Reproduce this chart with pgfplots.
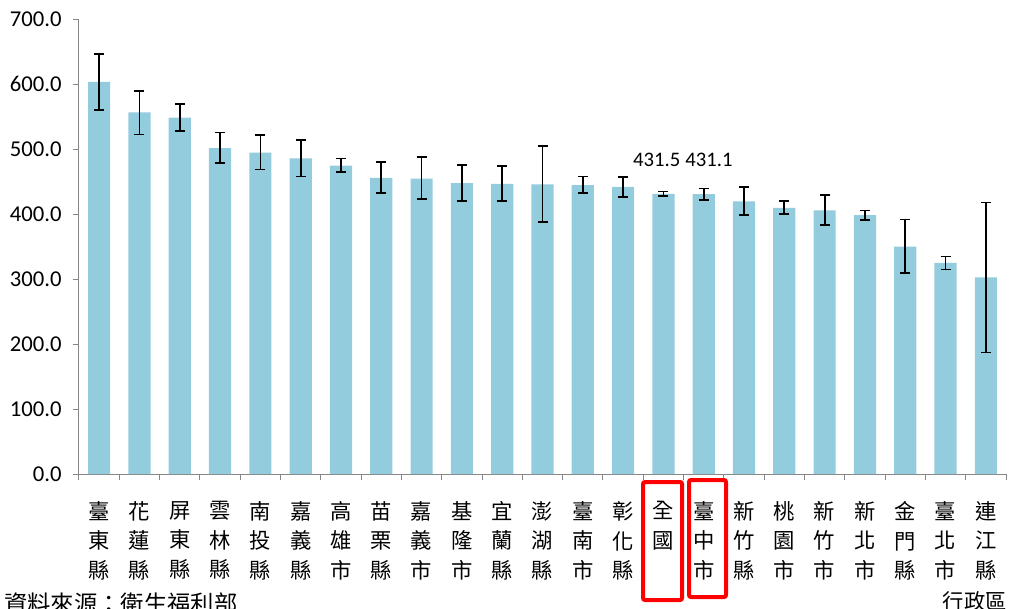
\documentclass[border=0pt]{standalone}
\usepackage{pgfplots}
\pgfplotsset{compat=1.18}
\usepackage{pgfplotstable}
\usepackage{fontspec}
\setmainfont{Carlito}
\newfontfamily\cjk{Noto Sans CJK TC}
\definecolor{barblue}{HTML}{93CDDD}
\definecolor{axgray}{HTML}{868686}

% x: category index, y: value, ep/em: error bar up/down
\pgfplotstableread{
x y ep em
0 604 43 43
1 557 33 34
2 549 21 21
3 502 24 23
4 495 27 26
5 486 28 28
6 475 11 10
7 456 24 23
8 455 33 32
9 448 28 28
10 447 27 26
11 446 59 58
12 445 13 12
13 442 15 15
14 431.5 3.5 3.5
15 431.1 8.4 9.6
16 420 22 21.5
17 410 10.5 10
18 406 24 23
19 398.5 7.5 7.5
20 350 42 40
21 325 10 10
22 303 115 116
}\datatable

\begin{document}
\begin{tikzpicture}
\begin{axis}[
  name=ax, at={(0,0)}, anchor=south west,
  scale only axis, width=695.25pt, height=340.9pt,
  xmin=-0.5, xmax=22.5, ymin=0, ymax=700,
  axis lines*=left,
  axis line style={axgray, line width=0.75pt},
  tick style={axgray, line width=0.75pt},
  tick align=outside,
  major tick length=4.5pt,
  ytick={0,100,...,700},
  yticklabel={\pgfmathprintnumber[fixed,fixed zerofill,precision=1]{\tick}},
  /pgf/number format/assume math mode=true,
  yticklabel style={font=\fontsize{17}{20}\selectfont, xshift=-5pt},
  xtick={-0.5,0.5,...,22.5},
  xticklabels={},
  extra x ticks={0,...,22},
  extra x tick labels={{臺\\東\\縣},{花\\蓮\\縣},{屏\\東\\縣},{雲\\林\\縣},{南\\投\\縣},{嘉\\義\\縣},{高\\雄\\市},{苗\\栗\\縣},{嘉\\義\\市},{基\\隆\\市},{宜\\蘭\\縣},{澎\\湖\\縣},{臺\\南\\市},{彰\\化\\縣},{全\\國},{臺\\中\\市},{新\\竹\\縣},{桃\\園\\市},{新\\竹\\市},{新\\北\\市},{金\\門\\縣},{臺\\北\\市},{連\\江\\縣}},
  extra x tick style={major tick length=0pt,
    tick label style={font=\cjk\fontsize{16}{22}\selectfont, align=center, inner sep=0pt, yshift=-20.5pt}},
]
\addplot[ybar, bar width=0.55, fill=barblue, draw=none,
  error bars/.cd, y dir=both, y explicit,
  error bar style={black, line width=1.3pt},
  error mark options={black, line width=1.3pt, mark size=3.75pt, rotate=90}]
  table[x=x, y=y, y error plus=ep, y error minus=em]{\datatable};
\node[font=\fontsize{15.5}{18}\selectfont, xshift=-5pt] at (axis cs:14,483) {431.5};
\node[font=\fontsize{15.5}{18}\selectfont, xshift=4pt] at (axis cs:15,483) {431.1};
\end{axis}
\draw[red, line width=3pt, rounded corners=1.5pt] (423pt,-6pt) rectangle (452.25pt,-94.5pt);
\draw[red, line width=3pt, rounded corners=1.5pt] (457.5pt,-4.5pt) rectangle (485.25pt,-92.25pt);
\node[anchor=base west, inner sep=0pt, font=\cjk\fontsize{17.5}{20}\selectfont] at (-56.25pt,-103.9pt) {資料來源：衛生福利部};
\node[anchor=base east, inner sep=0pt, font=\cjk\fontsize{16}{20}\selectfont] at (696pt,-101.5pt) {行政區};
\pgfresetboundingbox
\path[use as bounding box] (-59.25pt,-100.5pt) rectangle (698.25pt,355.5pt);
\end{tikzpicture}
\end{document}
